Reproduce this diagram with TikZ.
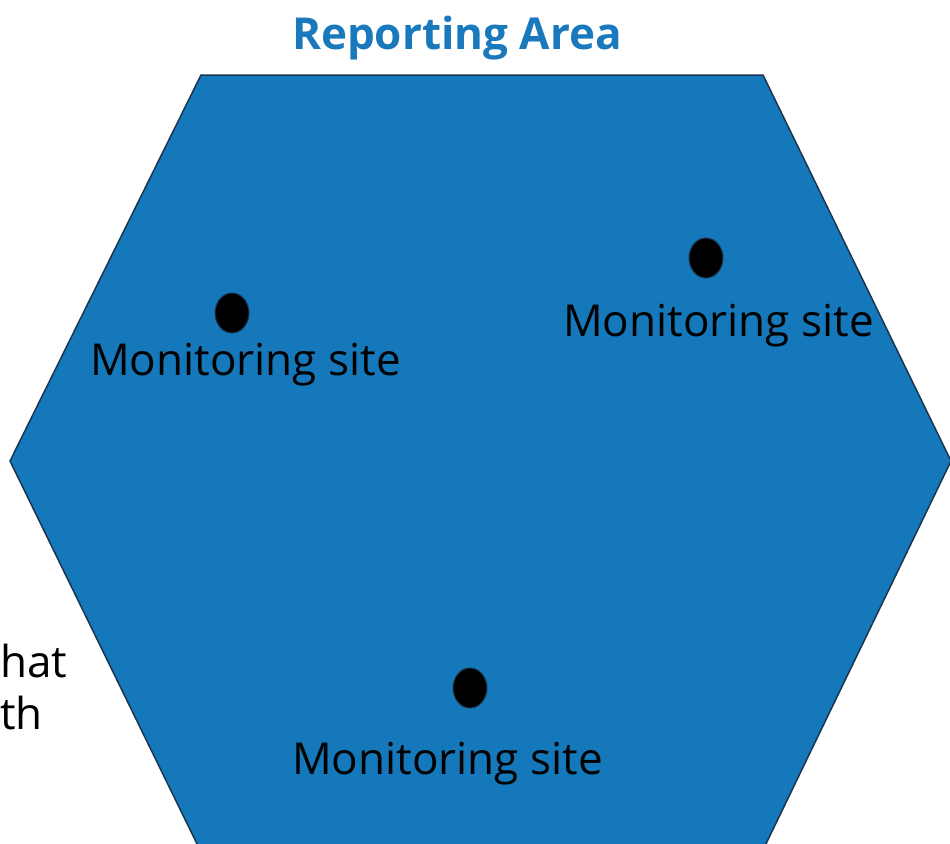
\documentclass[tikz,border=0pt]{standalone}
\usepackage{fontspec}
\setmainfont{Open Sans}
\definecolor{hexblue}{HTML}{1478BA}
\definecolor{hexedge}{HTML}{1B3550}
\definecolor{titleblue}{HTML}{1A78BC}
\begin{document}
\begin{tikzpicture}[x=1pt,y=-1pt,
  sitelabel/.style={font=\fontsize{44}{47}\selectfont,text=black,inner sep=0pt,anchor=base west},
  sitedot/.style={fill=black,draw=hexedge,line width=1pt},
  ]
\useasboundingbox (0,0) rectangle (950,843);
\path[fill=hexblue,draw=hexedge,line width=1.5pt]
  (201,75) -- (763,75) -- (951,461) -- (764,848) -- (199,848) -- (10,461) -- cycle;
\node[font=\fontsize{44}{48}\selectfont\bfseries,text=titleblue,inner sep=0pt,anchor=base] (title) at (457,49) {Reporting Area};
\draw[sitedot] (232,313) ellipse [x radius=17,y radius=20];
\draw[sitedot] (706,258) ellipse [x radius=17,y radius=20];
\draw[sitedot] (470,688) ellipse [x radius=17,y radius=20];
\node[sitelabel] (l1) at (90,375) {Monitoring site};
\node[sitelabel] (l2) at (563,336) {Monitoring site};
\node[sitelabel] (l3) at (292,774) {Monitoring site};
\node[sitelabel] (t1) at (0,677) {hat};
\node[sitelabel] (t2) at (0,729) {th};
\end{tikzpicture}
\end{document}
